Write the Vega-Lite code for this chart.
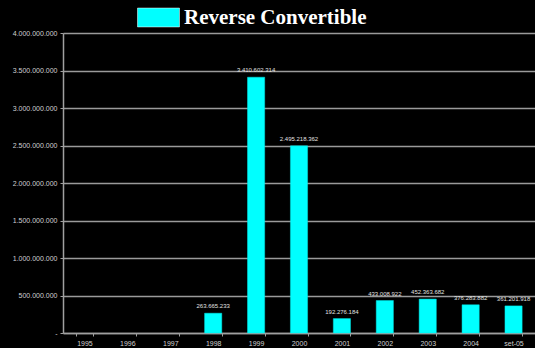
{
  "$schema": "https://vega.github.io/schema/vega-lite/v6.json",
  "autosize": "none",
  "width": 472,
  "height": 300,
  "padding": {"left": 63, "top": 33, "right": 0, "bottom": 15},
  "background": "#000000",
  "config": {
    "view": {"stroke": null},
    "locale": {"number": {"decimal": ",", "thousands": ".", "grouping": [3], "currency": ["€", ""]}}
  },
  "data": {
    "values": [
      {"year": "1995", "value": null, "series": "Reverse Convertible"},
      {"year": "1996", "value": null, "series": "Reverse Convertible"},
      {"year": "1997", "value": null, "series": "Reverse Convertible"},
      {"year": "1998", "value": 263665233, "series": "Reverse Convertible"},
      {"year": "1999", "value": 3410602314, "series": "Reverse Convertible"},
      {"year": "2000", "value": 2495218362, "series": "Reverse Convertible"},
      {"year": "2001", "value": 192276184, "series": "Reverse Convertible"},
      {"year": "2002", "value": 433008922, "series": "Reverse Convertible"},
      {"year": "2003", "value": 452363682, "series": "Reverse Convertible"},
      {"year": "2004", "value": 376283882, "series": "Reverse Convertible"},
      {"year": "set-05", "value": 361201918, "series": "Reverse Convertible"}
    ]
  },
  "encoding": {
    "x": {
      "field": "year", "type": "nominal", "sort": null,
      "scale": {"domain": ["1995","1996","1997","1998","1999","2000","2001","2002","2003","2004","set-05"], "paddingInner": 0.6, "paddingOuter": 0.3},
      "axis": {
        "title": null, "labelAngle": 0, "labelColor": "#d0d0d0", "labelFontSize": 7, "labelFont": "Liberation Sans",
        "domainColor": "#a0a0a0", "domainWidth": 1.5, "tickColor": "#a0a0a0", "tickSize": 3, "tickBand": "extent", "labelPadding": 3
      }
    },
    "y": {
      "field": "value", "type": "quantitative",
      "scale": {"domain": [0, 4000000000], "nice": false},
      "axis": {
        "title": null, "values": [0,500000000,1000000000,1500000000,2000000000,2500000000,3000000000,3500000000,4000000000],
        "format": ",d", "labelExpr": "datum.value == 0 ? '-' : datum.label", "labelOverlap": false,
        "labelColor": "#d0d0d0", "labelFontSize": 7, "labelFont": "Liberation Sans",
        "domainColor": "#a0a0a0", "domainWidth": 1.5, "tickColor": "#a0a0a0", "tickSize": 3,
        "grid": true, "gridColor": "#9a9a9a", "gridWidth": 1.5, "labelPadding": 3
      }
    }
  },
  "layer": [
    {
      "mark": {"type": "bar", "stroke": "#00e5e5", "strokeWidth": 0.5},
      "encoding": {
        "color": {
          "field": "series", "type": "nominal",
          "scale": {"range": ["#00ffff"]},
          "legend": {
            "title": null, "orient": "none", "legendX": 74, "legendY": -37,
            "symbolType": "M-1,-0.45H1V0.45H-1Z", "symbolSize": 1764,
            "symbolStrokeColor": "#ffffff", "symbolStrokeWidth": 0.5,
            "labelColor": "#ffffff", "labelFont": "Liberation Serif", "labelFontWeight": "bold",
            "labelFontSize": 21, "labelOffset": 4, "labelLimit": 400, "padding": 0
          }
        }
      }
    },
    {
      "transform": [{"filter": "datum.value != null"}],
      "mark": {"type": "text", "dy": -7, "fontSize": 6, "color": "#e0e0e0", "font": "Liberation Sans"},
      "encoding": {
        "text": {"field": "value", "type": "quantitative", "format": ",d"}
      }
    }
  ]
}
